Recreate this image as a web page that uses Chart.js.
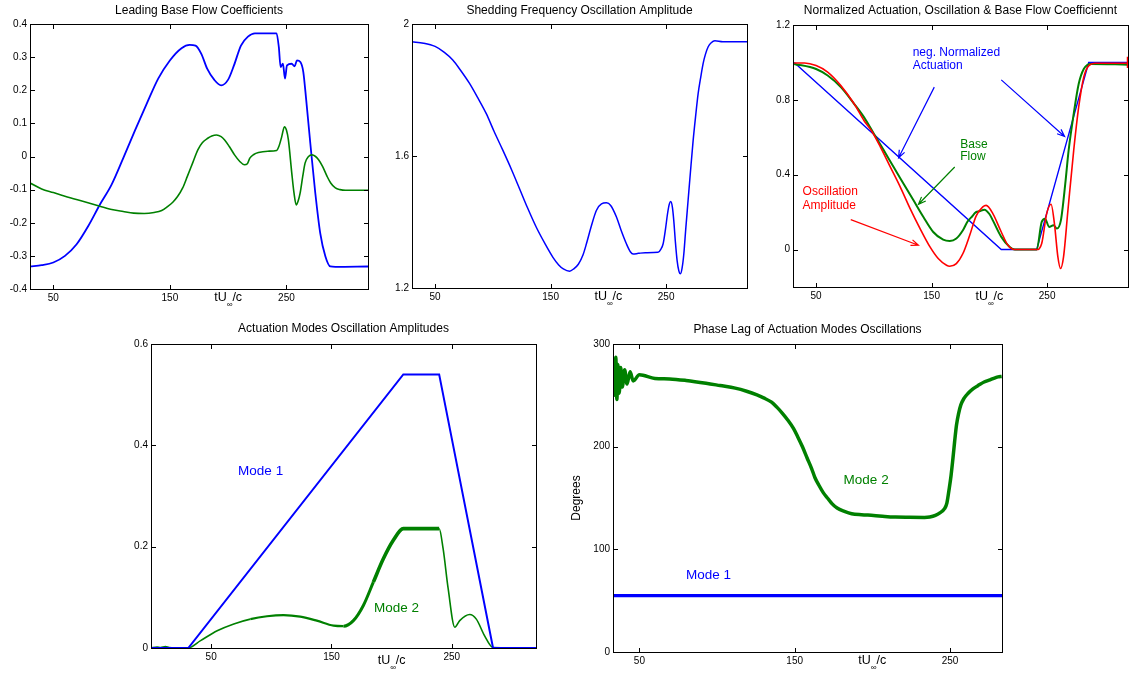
<!DOCTYPE html>
<html>
<head>
<meta charset="utf-8">
<script src="https://cdn.jsdelivr.net/npm/chart.js@4/dist/chart.umd.min.js"></script>
<style>
  body { margin: 0; background: #fff; width: 1131px; height: 675px; position: relative; overflow: hidden; }
  canvas { position: absolute; left: 0; top: 0; }
</style>
</head>
<body>
<canvas id="c1" width="1131" height="675"></canvas>
<canvas id="c2" width="1131" height="675"></canvas>
<canvas id="c3" width="1131" height="675"></canvas>
<canvas id="c4" width="1131" height="675"></canvas>
<canvas id="c5" width="1131" height="675"></canvas>
<script>
// ---- data ----
const xTicks = [50, 150, 250];

// Leading Base Flow Coefficients
const flowX1 = [30, 40, 50, 60, 70, 80, 90, 100, 110, 120, 130, 140, 150, 160, 167, 172, 177, 182, 188, 194, 200, 205, 211, 217, 223, 241.5, 243.5, 245, 247, 248.8, 250.5, 254.5, 257, 259, 262, 264.5, 267, 270.5, 274.8, 279, 283.4, 287.7, 292, 320];
const coefA = [-0.332, -0.328, -0.32, -0.3, -0.265, -0.21, -0.145, -0.085, -0.005, 0.078, 0.158, 0.235, 0.29, 0.327, 0.337, 0.335, 0.31, 0.265, 0.232, 0.215, 0.232, 0.275, 0.335, 0.362, 0.372, 0.372, 0.33, 0.27, 0.28, 0.235, 0.275, 0.28, 0.272, 0.29, 0.285, 0.255, 0.17, 0.04, -0.111, -0.231, -0.301, -0.332, -0.333, -0.332];
const flowX2 = [30, 40, 50, 60, 76, 90, 99, 110, 119, 128, 136.5, 143, 148, 152.5, 156.6, 161, 165, 169.5, 174, 178, 182.5, 186, 190, 194, 197, 201, 205.5, 210, 214, 216.5, 218.6, 222, 226, 234, 241.6, 243.5, 246, 248.3, 250, 251.7, 254.6, 256.5, 258.4, 260, 261.8, 264, 266, 269, 272, 275, 277.6, 281, 284.9, 288, 292, 296, 300.7, 320];
const coefB = [-0.08, -0.098, -0.109, -0.12, -0.136, -0.15, -0.159, -0.166, -0.171, -0.172, -0.169, -0.163, -0.151, -0.138, -0.121, -0.095, -0.06, -0.02, 0.02, 0.042, 0.055, 0.062, 0.065, 0.06, 0.05, 0.03, 0.005, -0.015, -0.025, -0.022, -0.005, 0.006, 0.012, 0.016, 0.018, 0.03, 0.06, 0.09, 0.08, 0.05, -0.05, -0.11, -0.146, -0.135, -0.11, -0.06, -0.02, 0, 0.005, 0, -0.01, -0.03, -0.06, -0.08, -0.095, -0.1, -0.102, -0.102];
const flowTicks = [-0.4, -0.3, -0.2, -0.1, 0, 0.1, 0.2, 0.3, 0.4];

// Shedding Frequency Oscillation Amplitude
const shedX = [30, 40, 50, 58, 65.3, 72, 79.8, 87, 94.2, 101, 108.7, 116, 123.1, 130, 137.6, 145, 152, 157, 161, 166.5, 170, 174, 178, 181, 185, 189.6, 194, 198.3, 202, 207, 211, 215.6, 219, 221.4, 226, 232, 243, 245.5, 247.4, 249.5, 251.2, 252.8, 254, 255.4, 256.6, 258, 259.5, 261, 262.4, 263.8, 265.3, 267, 269, 271, 273.4, 275.5, 277.7, 280, 282, 284, 286.4, 289, 292.2, 299, 320];
const shedAmp = [1.946, 1.942, 1.932, 1.914, 1.891, 1.86, 1.82, 1.776, 1.729, 1.675, 1.617, 1.56, 1.501, 1.443, 1.384, 1.335, 1.293, 1.27, 1.258, 1.251, 1.258, 1.272, 1.3, 1.334, 1.385, 1.435, 1.455, 1.458, 1.45, 1.415, 1.375, 1.334, 1.31, 1.303, 1.305, 1.307, 1.308, 1.318, 1.334, 1.38, 1.425, 1.455, 1.462, 1.445, 1.405, 1.34, 1.283, 1.252, 1.243, 1.26, 1.303, 1.38, 1.465, 1.55, 1.648, 1.72, 1.789, 1.84, 1.88, 1.908, 1.931, 1.943, 1.949, 1.946, 1.946];
const shedTicks = [1.2, 1.6, 2];

// Normalized Actuation, Oscillation & Base Flow
const actX = [31, 210.3, 240.9, 286, 320];
const actNorm = [1, 0, 0, 1, 1];
const oscX = [31, 40, 50, 60, 71.4, 82.9, 91.4, 98.6, 105.7, 114.3, 122.9, 131.4, 140, 148.6, 155.7, 162.9, 165.7, 171.4, 177.1, 182.9, 188.6, 194.3, 197.2, 203, 210.3, 216.1, 222, 240.9, 245.3, 249.6, 253.4, 256.3, 259.3, 261.6, 264.2, 268, 273, 277.3, 281.7, 286.1, 292, 319.6];
const oscNorm = [0.997, 0.997, 0.983, 0.948, 0.876, 0.779, 0.69, 0.628, 0.548, 0.441, 0.334, 0.219, 0.112, 0.014, -0.048, -0.084, -0.089, -0.075, -0.021, 0.075, 0.18, 0.228, 0.236, 0.192, 0.094, 0.023, 0, 0, 0.032, 0.192, 0.242, 0.139, -0.039, -0.101, -0.039, 0.21, 0.53, 0.761, 0.921, 0.983, 0.996, 0.996];
const oscTailX = [320, 320];
const oscTail = [0.97, 1.03];
const bfX = [31, 50, 60, 71.4, 82.9, 91.4, 100, 108.6, 117.1, 125.7, 134.3, 142.9, 151.4, 160, 165.7, 171.4, 177.1, 181.1, 184.3, 188.4, 191.4, 195.7, 200, 203, 210.3, 217.6, 222, 240.9, 245.3, 248.2, 251.7, 255.5, 258.4, 261.9, 265.7, 268.6, 273, 277.3, 281.7, 287.5, 319.6];
const bfNorm = [0.992, 0.965, 0.93, 0.868, 0.779, 0.708, 0.619, 0.53, 0.441, 0.352, 0.263, 0.174, 0.094, 0.053, 0.046, 0.059, 0.103, 0.15, 0.172, 0.2, 0.205, 0.213, 0.19, 0.156, 0.068, 0.014, 0, 0, 0.148, 0.165, 0.121, 0.13, 0.112, 0.156, 0.352, 0.53, 0.725, 0.885, 0.965, 0.992, 0.988];
const normTicks = [0, 0.4, 0.8, 1.2];

// Actuation Modes Oscillation Amplitudes
const mode1X = [0, 31, 209.7, 239.5, 284.3, 320];
const mode1Amp = [0, 0, 0.54, 0.54, 0, 0];
const mode2X = [0, 5, 8, 12, 15, 20, 30.7, 41.2, 55, 68.8, 82.6, 96.4, 110.2, 124, 137.8, 151.7, 160, 168.2, 176.5, 184.8, 193.1, 201.4, 209.7, 239.5, 242.8, 247, 252.5, 256.6, 264.9, 270.4, 277.3, 284.3, 320];
const mode2Amp = [0, 0.002, 0.001, 0.003, 0.001, 0, 0, 0.0145, 0.034, 0.0475, 0.057, 0.0627, 0.065, 0.062, 0.054, 0.044, 0.043, 0.054, 0.084, 0.13, 0.176, 0.2125, 0.2356, 0.2356, 0.196, 0.117, 0.041, 0.054, 0.066, 0.057, 0.024, 0.001, 0];
const ampTicks = [0, 0.2, 0.4, 0.6];

// Phase Lag of Actuation Modes Oscillations
const lag1X = [33, 283.5];
const lag1 = [55, 55];
const lag2X = [33.1, 33.6, 34.2, 34.8, 35.5, 36.2, 37, 38, 39, 40.5, 42, 44, 46, 50, 60, 69.5, 80, 92.9, 102, 111.7, 119, 125.7, 130, 135.1, 138.5, 142.1, 145.5, 149.2, 152, 155, 158, 160.9, 163, 165.6, 168.5, 171.5, 174, 177.3, 182, 186.7, 193, 200.8, 208, 214.8, 224, 233.6, 237, 240.6, 243.5, 246.5, 248, 249.5, 250.7, 251.9, 253, 254.2, 255.5, 257, 259, 261.7, 265, 268.8, 272, 275.8, 279, 281, 283.3];
const lag2 = [265, 282, 250, 287, 246, 280, 252, 277, 258, 275, 261, 273, 264, 270, 266.5, 266, 264.5, 261.8, 259.5, 257, 254, 250.4, 247.5, 243.3, 238.5, 232.5, 226, 217.8, 209.5, 199.9, 189, 178.7, 170, 162.4, 155, 149.3, 144.5, 140.2, 137, 134.7, 133.7, 133, 132, 131.4, 131.2, 131.1, 131.5, 133, 135.5, 139.6, 145, 159.1, 172, 188.5, 205, 221.1, 232, 240.7, 247, 252, 256.5, 260.2, 263, 265.1, 267, 268, 268.4];
const degTicks = [0, 100, 200, 300];

// ---- drawing ----
const W = 1131, H = 675;
const FONT = "'Liberation Sans', Arial, Helvetica, sans-serif";
const BLUE = '#0000ff', GREEN = '#008000', RED = '#ff0000';

function pts(xs, ys) {
    return xs.map((x, i) => ({ x: x, y: ys[i] }));
}

function series(xs, ys, color, width, extra) {
    return Object.assign({
        data: pts(xs, ys),
        borderColor: color,
        borderWidth: width,
        pointRadius: 0,
        fill: false,
        cubicInterpolationMode: 'monotone'
    }, extra || {});
}

function axis(min, max, ticks, fit) {
    return {
        type: 'linear', min: min, max: max,
        afterBuildTicks: s => { s.ticks = ticks.map(v => ({ value: v })); },
        afterFit: fit,
        grid: { display: false, drawTicks: false },
        border: { display: false },
        ticks: {
            color: '#000', padding: 3, autoSkip: false, maxRotation: 0,
            font: { family: FONT, size: 10 },
            callback: v => String(v)
        }
    };
}

function arrow(ctx, x0, y0, x1, y1) {
    const a = Math.atan2(y1 - y0, x1 - x0), len = 8, spread = 0.38;
    ctx.beginPath();
    ctx.moveTo(x0, y0);
    ctx.lineTo(x1, y1);
    ctx.moveTo(x1 - len * Math.cos(a - spread), y1 - len * Math.sin(a - spread));
    ctx.lineTo(x1, y1);
    ctx.lineTo(x1 - len * Math.cos(a + spread), y1 - len * Math.sin(a + spread));
    ctx.stroke();
}

// frame, inward ticks, title, x label and notes
function framePlugin(deco) {
    return {
        id: 'frame',
        afterDraw(chart) {
            const { ctx, chartArea: a, scales: { x, y } } = chart;
            ctx.save();
            ctx.strokeStyle = '#000';
            ctx.lineWidth = 1;
            ctx.strokeRect(a.left + 0.5, a.top + 0.5, a.right - a.left, a.bottom - a.top);
            ctx.beginPath();
            x.ticks.forEach(t => {
                const px = Math.round(x.getPixelForValue(t.value)) + 0.5;
                ctx.moveTo(px, a.bottom); ctx.lineTo(px, a.bottom - 4);
                ctx.moveTo(px, a.top + 1); ctx.lineTo(px, a.top + 5);
            });
            y.ticks.forEach(t => {
                const py = Math.round(y.getPixelForValue(t.value)) + 0.5;
                ctx.moveTo(a.left + 1, py); ctx.lineTo(a.left + 5, py);
                ctx.moveTo(a.right, py); ctx.lineTo(a.right - 4, py);
            });
            ctx.stroke();

            ctx.fillStyle = '#000';
            ctx.textAlign = 'center';
            ctx.textBaseline = 'middle';
            ctx.font = '12px ' + FONT;
            ctx.fillText(deco.title, (a.left + a.right) / 2, a.top - deco.titleDy);

            // tU_inf/c, centred on x = 200
            const cx = x.getPixelForValue(200), cy = a.bottom + deco.labelDy;
            ctx.font = '12.5px ' + FONT;
            const w1 = ctx.measureText('tU').width, w3 = ctx.measureText('/c').width;
            ctx.font = '8px ' + FONT;
            const w2 = ctx.measureText('\u221e').width;
            let lx = cx - (w1 + w2 + w3) / 2;
            ctx.textAlign = 'left';
            ctx.font = '12.5px ' + FONT;
            ctx.fillText('tU', lx, cy);
            ctx.font = '8px ' + FONT;
            ctx.fillText('\u221e', lx + w1, cy + 7);
            ctx.font = '12.5px ' + FONT;
            ctx.fillText('/c', lx + w1 + w2, cy);

            if (deco.ylabel) {
                ctx.save();
                ctx.translate(a.left - 36, (a.top + a.bottom) / 2);
                ctx.rotate(-Math.PI / 2);
                ctx.textAlign = 'center';
                ctx.font = '12px ' + FONT;
                ctx.fillText(deco.ylabel, 0, 0);
                ctx.restore();
            }

            (deco.notes || []).forEach(n => {
                ctx.fillStyle = n.color;
                ctx.font = n.size + 'px ' + FONT;
                ctx.textAlign = 'left';
                ctx.fillText(n.text, x.getPixelForValue(n.x), y.getPixelForValue(n.y));
            });
            (deco.arrows || []).forEach(r => {
                ctx.strokeStyle = r.color;
                ctx.lineWidth = 1.2;
                arrow(ctx, x.getPixelForValue(r.x0), y.getPixelForValue(r.y0),
                        x.getPixelForValue(r.x1), y.getPixelForValue(r.y1));
            });
            ctx.restore();
        }
    };
}

function makeChart(id, cfg) {
    const b = cfg.box, yW = 40, xH = 20;
    return new Chart(document.getElementById(id), {
        type: 'line',
        data: { datasets: cfg.datasets },
        options: {
            responsive: false,
            animation: false,
            devicePixelRatio: 1,
            layout: { padding: { left: b[0] - yW, top: b[1], right: W - b[2], bottom: H - b[3] - xH } },
            plugins: { legend: { display: false }, tooltip: { enabled: false }, title: { display: false } },
            scales: {
                x: axis(cfg.xMin, cfg.xMax, xTicks, s => { s.height = xH; }),
                y: axis(cfg.yMin, cfg.yMax, cfg.yTicks, s => { s.width = yW; })
            }
        },
        plugins: [framePlugin(cfg.deco)]
    });
}

const straight = { cubicInterpolationMode: 'default', tension: 0 };

// green band of mode 2 gets thicker where it is noisy
function mode2Width(c) {
    const x0 = c.p0.parsed.x, x1 = c.p1.parsed.x;
    if (x0 >= 184 && x1 <= 240) return 3.6;
    if (x0 >= 160 && x1 <= 240) return 3;
    if (x0 >= 80 && x1 <= 240) return 2.2;
    return 1.6;
}

makeChart('c1', {
    box: [30, 24, 368, 289], xMin: 30, xMax: 320, yMin: -0.4, yMax: 0.4, yTicks: flowTicks,
    datasets: [
        series(flowX2, coefB, GREEN, 1.6),
        series(flowX1, coefA, BLUE, 1.8)
    ],
    deco: { title: 'Leading Base Flow Coefficients', titleDy: 13, labelDy: 9 }
});

makeChart('c2', {
    box: [412, 24, 747, 288], xMin: 30, xMax: 320, yMin: 1.2, yMax: 2, yTicks: shedTicks,
    datasets: [series(shedX, shedAmp, BLUE, 1.5)],
    deco: { title: 'Shedding Frequency Oscillation Amplitude', titleDy: 13, labelDy: 9 }
});

makeChart('c3', {
    box: [793, 25, 1128, 287], xMin: 30, xMax: 320, yMin: -0.2, yMax: 1.2, yTicks: normTicks,
    datasets: [
        series(oscX, oscNorm, RED, 1.6),
        series(oscTailX, oscTail, RED, 2.5, straight),
        series(bfX, bfNorm, GREEN, 2),
        series(actX, actNorm, BLUE, 1.4, straight)
    ],
    deco: {
        title: 'Normalized Actuation, Oscillation & Base Flow Coefficiennt', titleDy: 14, labelDy: 10,
        notes: [
            { text: 'neg. Normalized', x: 133.6, y: 1.05, color: BLUE, size: 12 },
            { text: 'Actuation', x: 133.6, y: 0.98, color: BLUE, size: 12 },
            { text: 'Base', x: 174.8, y: 0.56, color: GREEN, size: 12 },
            { text: 'Flow', x: 174.8, y: 0.494, color: GREEN, size: 12 },
            { text: 'Oscillation', x: 38.3, y: 0.311, color: RED, size: 12 },
            { text: 'Amplitude', x: 38.3, y: 0.236, color: RED, size: 12 }
        ],
        arrows: [
            { x0: 152.3, y0: 0.868, x1: 121.4, y1: 0.491, color: BLUE },
            { x0: 210.3, y0: 0.907, x1: 265.1, y1: 0.604, color: BLUE },
            { x0: 170, y0: 0.441, x1: 138.6, y1: 0.242, color: GREEN },
            { x0: 80, y0: 0.16, x1: 138.6, y1: 0.023, color: RED }
        ]
    }
});

makeChart('c4', {
    box: [151, 344, 536, 648], xMin: 0, xMax: 320, yMin: 0, yMax: 0.6, yTicks: ampTicks,
    datasets: [
        series(mode1X, mode1Amp, BLUE, 2, straight),
        series(mode2X, mode2Amp, GREEN, 1.6, { segment: { borderWidth: mode2Width } })
    ],
    deco: {
        title: 'Actuation Modes Oscillation Amplitudes', titleDy: 15, labelDy: 13,
        notes: [
            { text: 'Mode 1', x: 72.4, y: 0.349, color: BLUE, size: 13.5 },
            { text: 'Mode 2', x: 185.3, y: 0.078, color: GREEN, size: 13.5 }
        ]
    }
});

makeChart('c5', {
    box: [613, 344, 1002, 652], xMin: 33, xMax: 283.5, yMin: 0, yMax: 300, yTicks: degTicks,
    datasets: [
        series(lag2X, lag2, GREEN, 3.5),
        series(lag1X, lag1, BLUE, 3.2, straight)
    ],
    deco: {
        title: 'Phase Lag of Actuation Modes Oscillations', titleDy: 14, labelDy: 9, ylabel: 'Degrees',
        notes: [
            { text: 'Mode 2', x: 181.5, y: 167.4, color: GREEN, size: 13.5 },
            { text: 'Mode 1', x: 80, y: 74.5, color: BLUE, size: 13.5 }
        ]
    }
});
</script>
</body>
</html>
